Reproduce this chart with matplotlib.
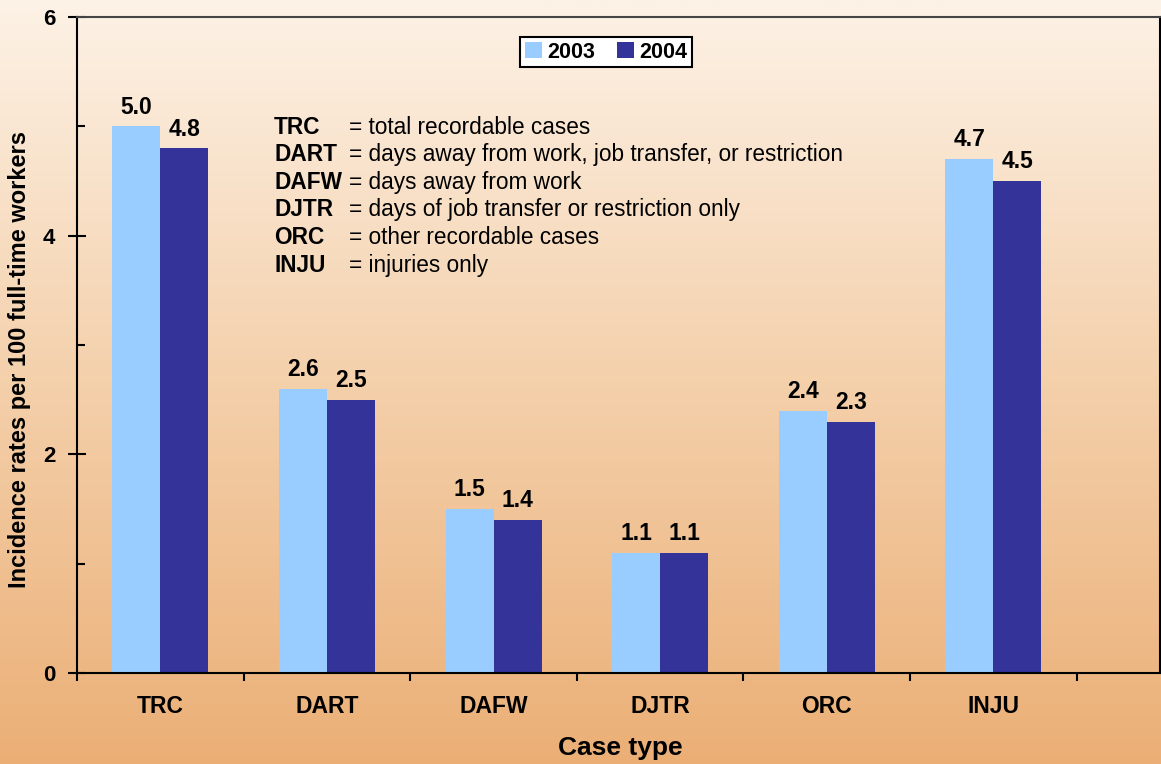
import numpy as np
import matplotlib
matplotlib.use("Agg")
import matplotlib.pyplot as plt
from matplotlib.colors import LinearSegmentedColormap
from matplotlib.ticker import MultipleLocator

plt.rcParams['font.family'] = ['Liberation Sans', 'DejaVu Sans']

categories = ["TRC", "DART", "DAFW", "DJTR", "ORC", "INJU"]
rates_2003 = [5.0, 2.6, 1.5, 1.1, 2.4, 4.7]
rates_2004 = [4.8, 2.5, 1.4, 1.1, 2.3, 4.5]
years = ["2003", "2004"]
definitions = [
    ("TRC", "= total recordable cases"),
    ("DART", "= days away from work, job transfer, or restriction"),
    ("DAFW", "= days away from work"),
    ("DJTR", "= days of job transfer or restriction only"),
    ("ORC", "= other recordable cases"),
    ("INJU", "= injuries only"),
]

W, H = 1161, 764
fig = plt.figure(figsize=(W / 100, H / 100), dpi=100)

# gradient background
bg = fig.add_axes([0, 0, 1, 1], zorder=0)
cmap = LinearSegmentedColormap.from_list("bg", ["#FDF2E6", "#F4D0AB", "#EBAF76"])
bg.imshow(np.linspace(0, 1, 256).reshape(-1, 1), aspect="auto", cmap=cmap,
          extent=[0, 1, 0, 1])
bg.axis("off")

ax = fig.add_axes([77 / W, (H - 673) / H, (1160 - 77) / W, (673 - 17) / H], zorder=1)
ax.patch.set_alpha(0)

x = np.arange(len(categories))
bw = 0.288
b1 = ax.bar(x - bw / 2, rates_2003, bw, color="#99CCFF", label=years[0])
b2 = ax.bar(x + bw / 2, rates_2004, bw, color="#333399", label=years[1])

for bars in (b1, b2):
    for bar in bars:
        ax.text(bar.get_x() + bar.get_width() / 2, bar.get_height() + 0.07,
                f"{bar.get_height():.1f}", ha="center", va="bottom",
                fontsize=16.5, fontweight="bold")

ax.set_xlim(-0.5, 6.0)
ax.set_ylim(0, 6)

ax.set_xticks(np.arange(-0.5, 6.0, 1.0))
ax.set_xticklabels([])
ax.set_xticks(x, minor=True)
ax.set_xticklabels(categories, minor=True, fontsize=16.5, fontweight="bold")
ax.tick_params(axis="x", which="major", direction="out", length=6, width=1.5)
ax.tick_params(axis="x", which="minor", length=0, pad=16)

ax.set_yticks([0, 2, 4, 6])
ax.set_yticklabels(["0", "2", "4", "6"], fontsize=16, fontweight="bold")
ax.yaxis.set_minor_locator(MultipleLocator(1))
ax.tick_params(axis="y", which="major", direction="inout", length=13, width=1.5, pad=9)
ax.tick_params(axis="y", which="minor", direction="in", length=6, width=1.5)

for s in ("left", "bottom", "right"):
    ax.spines[s].set_linewidth(1.5)
    ax.spines[s].set_color("black")
ax.spines["top"].set_linewidth(1.5)
ax.spines["top"].set_color("#444444")

leg = ax.legend(loc="center", bbox_to_anchor=((606 - 77) / (1160 - 77), 1 - (52 - 17) / (673 - 17)),
                ncol=2, frameon=True, fancybox=False, edgecolor="black",
                facecolor="white", framealpha=1, handlelength=0.8, handleheight=0.8,
                handletextpad=0.25, columnspacing=1.0, borderpad=0.2,
                prop={"size": 15.5, "weight": "bold"})
leg.get_frame().set_linewidth(1.5)

# definitions
for i, (abbr, desc) in enumerate(definitions):
    yy = 1 - (127 + i * 27.6) / H
    fig.text(274 / W, yy, abbr, fontsize=16.3, fontweight="bold", va="center", zorder=3)
    fig.text(349 / W, yy, desc, fontsize=16.3, va="center", zorder=3)

fig.text(20 / W, 1 - 360 / H, "Incidence rates per 100 full-time workers",
         rotation=90, ha="center", va="center", fontsize=17, fontweight="bold", zorder=3)
fig.text(620 / W, 1 - 748 / H, "Case type", ha="center", va="center",
         fontsize=19, fontweight="bold", zorder=3)

fig.savefig("out.png", dpi=100)
